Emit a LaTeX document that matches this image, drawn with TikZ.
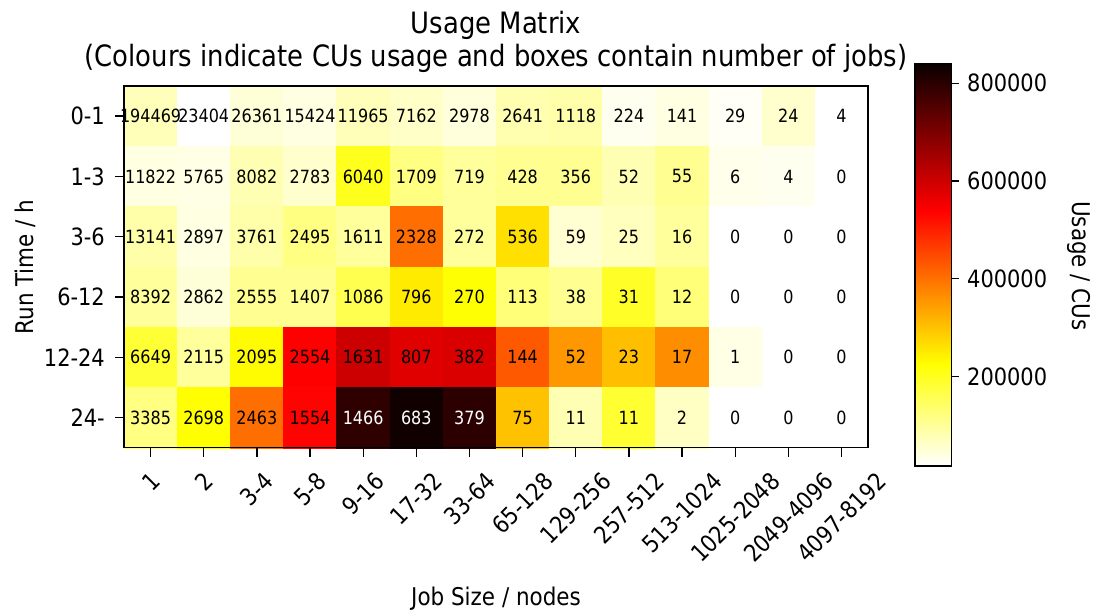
\documentclass[tikz,border=0pt]{standalone}
\usepackage{fontspec}
\setmainfont{DejaVu Sans}[FakeStretch=0.88]
\usetikzlibrary{calc}

% reversed "hot" colour map: white -> yellow -> red -> black
\definecolor{hotblack}{rgb}{0.0416,0,0}
\pgfdeclareverticalshading{hotr}{100bp}{color(0bp)=(white); color(25bp)=(white);
  color(37.7bp)=(yellow); color(56.75bp)=(red); color(75bp)=(hotblack); color(100bp)=(hotblack)}
\newcommand\sethot[1]{%
  \pgfmathsetmacro\hotB{max(0,1-(#1)/0.254)}%
  \pgfmathsetmacro\hotG{max(0,min(1,1-((#1)-0.254)/0.381))}%
  \pgfmathsetmacro\hotR{max(0.0416,min(1,1-((#1)-0.635)/0.365*0.9584))}%
  \definecolor{cellc}{rgb}{\hotR,\hotG,\hotB}%
  \pgfmathsetmacro\txtw{(#1)>0.8 ? 1 : 0}%
  \ifdim\txtw pt>0.5pt \colorlet{txtc}{white}\else\colorlet{txtc}{black}\fi}

\newcommand\titlefont{\fontsize{29.4}{33}\selectfont}
\newcommand\tickfont{\fontsize{23.8}{27}\selectfont}
\newcommand\labelfont{\fontsize{24.4}{28}\selectfont}
\newcommand\cellfont{\fontsize{18.2}{21}\selectfont}

\pgfdeclarelayer{bg}
\pgfsetlayers{bg,main}

\begin{document}
\begin{tikzpicture}[x=1pt,y=-1pt,
  frame/.style={line width=1.5pt, draw=black},
  tickmark/.style={line width=1.3pt, draw=black},
  celltext/.style={font=\cellfont, inner sep=0pt},
  ticktext/.style={font=\tickfont, inner sep=0pt},
  axislabel/.style={font=\labelfont, inner sep=0pt}]
\useasboundingbox (0,0) rectangle (1094,612);

% matrix geometry
\def\L{124}\def\R{868.2}\def\T{86}\def\B{447.7}
\def\cw{53.15}\def\rh{60.28}

% cells: number of jobs / colour level
\foreach \row [count=\r] in {
 {194469/0.07,23404/0,26361/0.04,15424/0.03,11965/0.07,7162/0.055,2978/0.035,2641/0.08,1118/0.085,224/0.015,141/0.03,29/0.01,24/0.05,4/0},
 {11822/0.03,5765/0.025,8082/0.075,2783/0.05,6040/0.225,1709/0.125,719/0.1,428/0.11,356/0.11,52/0.075,55/0.11,6/0.02,4/0.015,0/0},
 {13141/0.085,2897/0.03,3761/0.085,2495/0.125,1611/0.1,2328/0.47,272/0.1,536/0.30,59/0.045,25/0.065,16/0.1,0/0,0/0,0/0},
 {8392/0.1,2862/0.04,2555/0.11,1407/0.11,1086/0.175,796/0.284,270/0.25,113/0.135,38/0.11,31/0.215,12/0.135,0/0,0/0,0/0},
 {6649/0.2,2115/0.1,2095/0.26,2554/0.635,1631/0.711,807/0.681,382/0.69,144/0.502,52/0.41,23/0.35,17/0.425,1/0.025,0/0,0/0},
 {3385/0.125,2698/0.254,2463/0.47,1554/0.63,1466/0.947,683/0.99,379/0.95,75/0.345,11/0.075,11/0.205,2/0.06,0/0,0/0,0/0}} {
  \foreach \n/\t [count=\c] in \row {
    \sethot{\t}
    \pgfmathsetmacro\xa{\L+(\c-1)*\cw}
    \pgfmathsetmacro\ya{\T+(\r-1)*\rh}
    \begin{pgfonlayer}{bg}
      \fill[cellc, draw=cellc, line width=0.3pt] (\xa,\ya) rectangle ++(\cw,\rh);
    \end{pgfonlayer}
    \node[celltext, text=txtc] (n-\r-\c) at (\xa+0.5*\cw,\ya+0.5*\rh) {\n};
  }
}

% axes frame and ticks
\draw[frame] (\L,\T) rectangle (\R,\B);
\foreach \c in {1,...,14} {
  \draw[tickmark] (\L+\c*\cw-0.5*\cw,\B) -- ++(0,9.5);
}
\foreach \lab [count=\r] in {0-1,1-3,3-6,6-12,12-24,24-} {
  \draw[tickmark] (\L,\T+\r*\rh-0.5*\rh) -- ++(-9.5,0);
  \node[ticktext, anchor=east] (y-\r) at (105,\T+\r*\rh-0.5*\rh) {\lab};
}
% rotated column labels: centred on the tick, top of the rotated box at y=471
% (label / number of digits / number of hyphens; digit 0.636em, hyphen 0.361em)
\foreach \lab/\nd/\nh [count=\c] in {1/1/0,2/1/0,3-4/2/1,5-8/2/1,9-16/3/1,17-32/4/1,33-64/4/1,
    65-128/5/1,129-256/6/1,257-512/6/1,513-1024/7/1,1025-2048/8/1,2049-4096/8/1,4097-8192/8/1} {
  \pgfmathsetmacro\yc{471+((\nd*0.636+\nh*0.361)*20.94+17.35)/2.828}
  \node[ticktext, rotate=45] (x-\c) at (\L+\c*\cw-0.5*\cw,\yc) {\lab};
}

% axis labels and title
\node[axislabel, rotate=90] (ylab) at (25,267) {Run Time / h};
\node[axislabel, anchor=base] (xlab) at (496,605) {Job Size / nodes};
\node[font=\titlefont, inner sep=0pt, anchor=base] (title1) at (496,34) {Usage Matrix};
\node[font=\titlefont, inner sep=0pt, anchor=base] (title2) at (496,67) {(Colours indicate CUs usage and boxes contain number of jobs)};

% colour bar (values in thousands of CUs)
\def\cbL{915}\def\cbR{951.7}\def\cbT{64}\def\cbB{466}
\shade[shading=hotr] (\cbL,\cbT) rectangle (\cbR,\cbB);
\draw[frame] (\cbL,\cbT) rectangle (\cbR,\cbB);
\foreach \v/\lab in {200/200000,400/400000,600/600000,800/800000} {
  \pgfmathsetmacro\yv{\cbB-(\v-16.6)/822.9*402}
  \draw[tickmark] (\cbR,\yv) -- ++(7,0);
  \node[ticktext, anchor=west] (cb-\v) at (967,\yv) {\lab};
}
\node[axislabel, rotate=-90] (cblab) at (1079,266) {Usage / CUs};
\end{tikzpicture}
\end{document}
